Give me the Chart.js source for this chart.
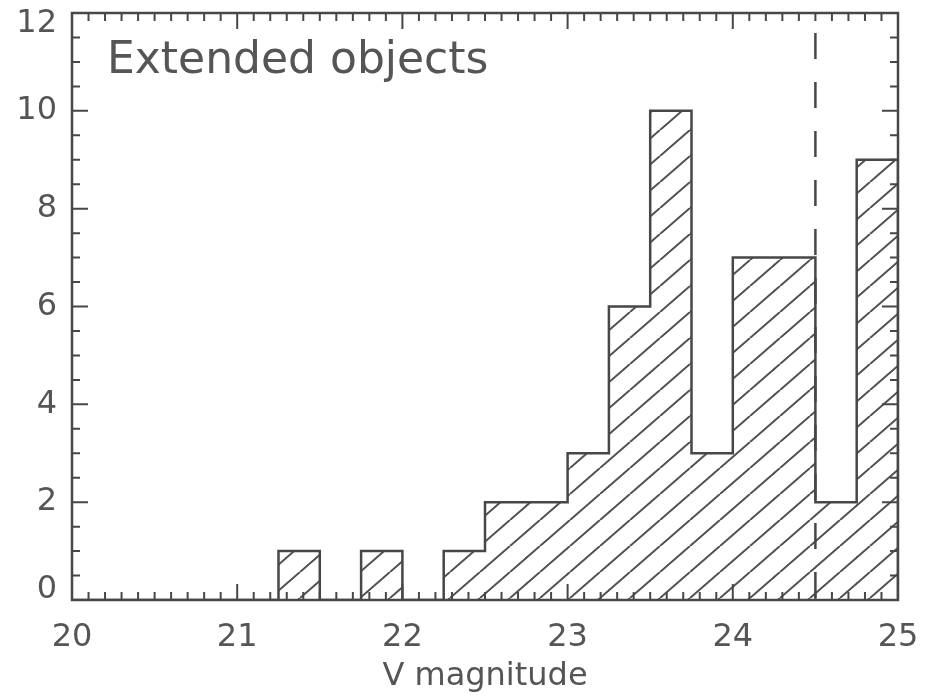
<!DOCTYPE html>
<html>
<head>
<meta charset="utf-8">
<script src="https://cdn.jsdelivr.net/npm/chart.js@4.4.1/dist/chart.umd.min.js"></script>
<style>
  html, body { margin: 0; padding: 0; background: #fff; }
  #wrap { width: 942px; height: 700px; }
</style>
</head>
<body>
<div id="wrap"><canvas id="histChart" width="942" height="700"></canvas></div>
<script>
// histogram of V magnitudes, bins of 0.25 mag
const binStarts = [20.0, 20.25, 20.5, 20.75, 21.0, 21.25, 21.5, 21.75, 22.0, 22.25,
                   22.5, 22.75, 23.0, 23.25, 23.5, 23.75, 24.0, 24.25, 24.5, 24.75];
const counts    = [0, 0, 0, 0, 0, 1, 0, 1, 0, 1,
                   2, 2, 3, 6, 10, 3, 7, 7, 2, 9];
const binWidth = 0.25;
const cutoffMag = 24.5;
const xTicks = [20, 21, 22, 23, 24, 25];
const yTicks = [0, 2, 4, 6, 8, 10, 12];
const panelLabel = "Extended objects";
const xLabel = "V magnitude";

const ink = "#474747";
const textInk = "#555555";

// diagonal hatch pattern "/"
function makeHatch() {
    const w = 30, h = 26;
    const c = document.createElement("canvas");
    c.width = w; c.height = h;
    const g = c.getContext("2d");
    g.strokeStyle = "#505050";
    g.lineWidth = 2;
    g.beginPath();
    for (let k = -1; k <= 1; k++) {
        g.moveTo(k * w, h);
        g.lineTo(k * w + w, 0);
    }
    g.stroke();
    return g.createPattern(c, "repeat");
}

const barData = binStarts.map((b, i) => ({ x: b + binWidth / 2, y: counts[i] }));
const outline = binStarts.map((b, i) => ({ x: b, y: counts[i] }));
outline.push({ x: binStarts[binStarts.length - 1] + binWidth, y: 0 });

// frame, inward ticks, y labels (kept inside the frame height) and panel label
const framePlugin = {
    id: "frame",
    afterDatasetsDraw(chart) {
        const { ctx, chartArea: a, scales } = chart;
        const xs = scales.x, ys = scales.y;
        ctx.save();
        ctx.strokeStyle = ink;
        ctx.lineWidth = 2.5;
        ctx.strokeRect(a.left, a.top, a.right - a.left, a.bottom - a.top);
        ctx.lineWidth = 2;
        ctx.beginPath();
        const x0 = xTicks[0], x1 = xTicks[xTicks.length - 1];
        for (let i = 0; i <= (x1 - x0) * 10; i++) {
            const v = x0 + i / 10;
            const len = i % 10 === 0 ? 16 : 8;
            const px = xs.getPixelForValue(v);
            ctx.moveTo(px, a.bottom); ctx.lineTo(px, a.bottom - len);
            ctx.moveTo(px, a.top); ctx.lineTo(px, a.top + len);
        }
        const y0 = yTicks[0], y1 = yTicks[yTicks.length - 1];
        for (let i = 0; i <= (y1 - y0) * 2; i++) {
            const v = y0 + i / 2;
            const len = i % 4 === 0 ? 16 : 8;
            const py = ys.getPixelForValue(v);
            ctx.moveTo(a.left, py); ctx.lineTo(a.left + len, py);
            ctx.moveTo(a.right, py); ctx.lineTo(a.right - len, py);
        }
        ctx.stroke();

        ctx.fillStyle = textInk;
        ctx.font = "32px 'DejaVu Sans'";
        ctx.textAlign = "right";
        ctx.textBaseline = "middle";
        yTicks.forEach(v => {
            const py = Math.min(Math.max(ys.getPixelForValue(v), a.top + 11), a.bottom - 10);
            ctx.fillText(String(v), a.left - 15, py);
        });

        ctx.font = "44px 'DejaVu Sans'";
        ctx.textAlign = "left";
        ctx.textBaseline = "alphabetic";
        ctx.fillText(panelLabel, a.left + 35, a.top + 60);
        ctx.restore();
    }
};

const ctx = document.getElementById("histChart").getContext("2d");
new Chart(ctx, {
    type: "bar",
    data: {
        datasets: [
            {
                type: "line",
                data: [{ x: cutoffMag, y: yTicks[yTicks.length - 1] }, { x: cutoffMag, y: 0 }],
                borderColor: ink,
                borderWidth: 2.5,
                borderDash: [26, 23],
                borderDashOffset: 29,
                pointRadius: 0,
                order: 0
            },
            {
                type: "line",
                data: outline,
                stepped: "before",
                borderColor: ink,
                borderWidth: 2.5,
                pointRadius: 0,
                order: 1
            },
            {
                type: "bar",
                data: barData,
                backgroundColor: makeHatch(),
                borderWidth: 0,
                barPercentage: 1,
                categoryPercentage: 1,
                order: 2
            }
        ]
    },
    options: {
        responsive: false,
        animation: false,
        layout: { padding: { top: 13, right: 44, left: 0, bottom: 0 } },
        plugins: { legend: { display: false }, tooltip: { enabled: false } },
        scales: {
            x: {
                type: "linear",
                min: xTicks[0],
                max: xTicks[xTicks.length - 1],
                offset: false,
                grid: { display: false, drawTicks: false },
                border: { display: false },
                afterBuildTicks: s => { s.ticks = xTicks.map(v => ({ value: v })); },
                ticks: {
                    color: textInk,
                    font: { family: "DejaVu Sans", size: 32 },
                    padding: 18,
                    maxRotation: 0
                },
                title: {
                    display: true,
                    text: xLabel,
                    color: textInk,
                    font: { family: "DejaVu Sans", size: 32 },
                    padding: { top: 0, bottom: 4 }
                },
                afterFit: s => {
                    s.height = 100;
                    s.paddingLeft = 0;
                    s.paddingRight = 0;
                }
            },
            y: {
                min: yTicks[0],
                max: yTicks[yTicks.length - 1],
                grid: { display: false, drawTicks: false },
                border: { display: false },
                afterBuildTicks: s => { s.ticks = yTicks.map(v => ({ value: v })); },
                ticks: { display: false },
                afterFit: s => {
                    s.width = 72;
                    s.paddingTop = 0;
                    s.paddingBottom = 0;
                }
            }
        }
    },
    plugins: [framePlugin]
});
</script>
</body>
</html>
